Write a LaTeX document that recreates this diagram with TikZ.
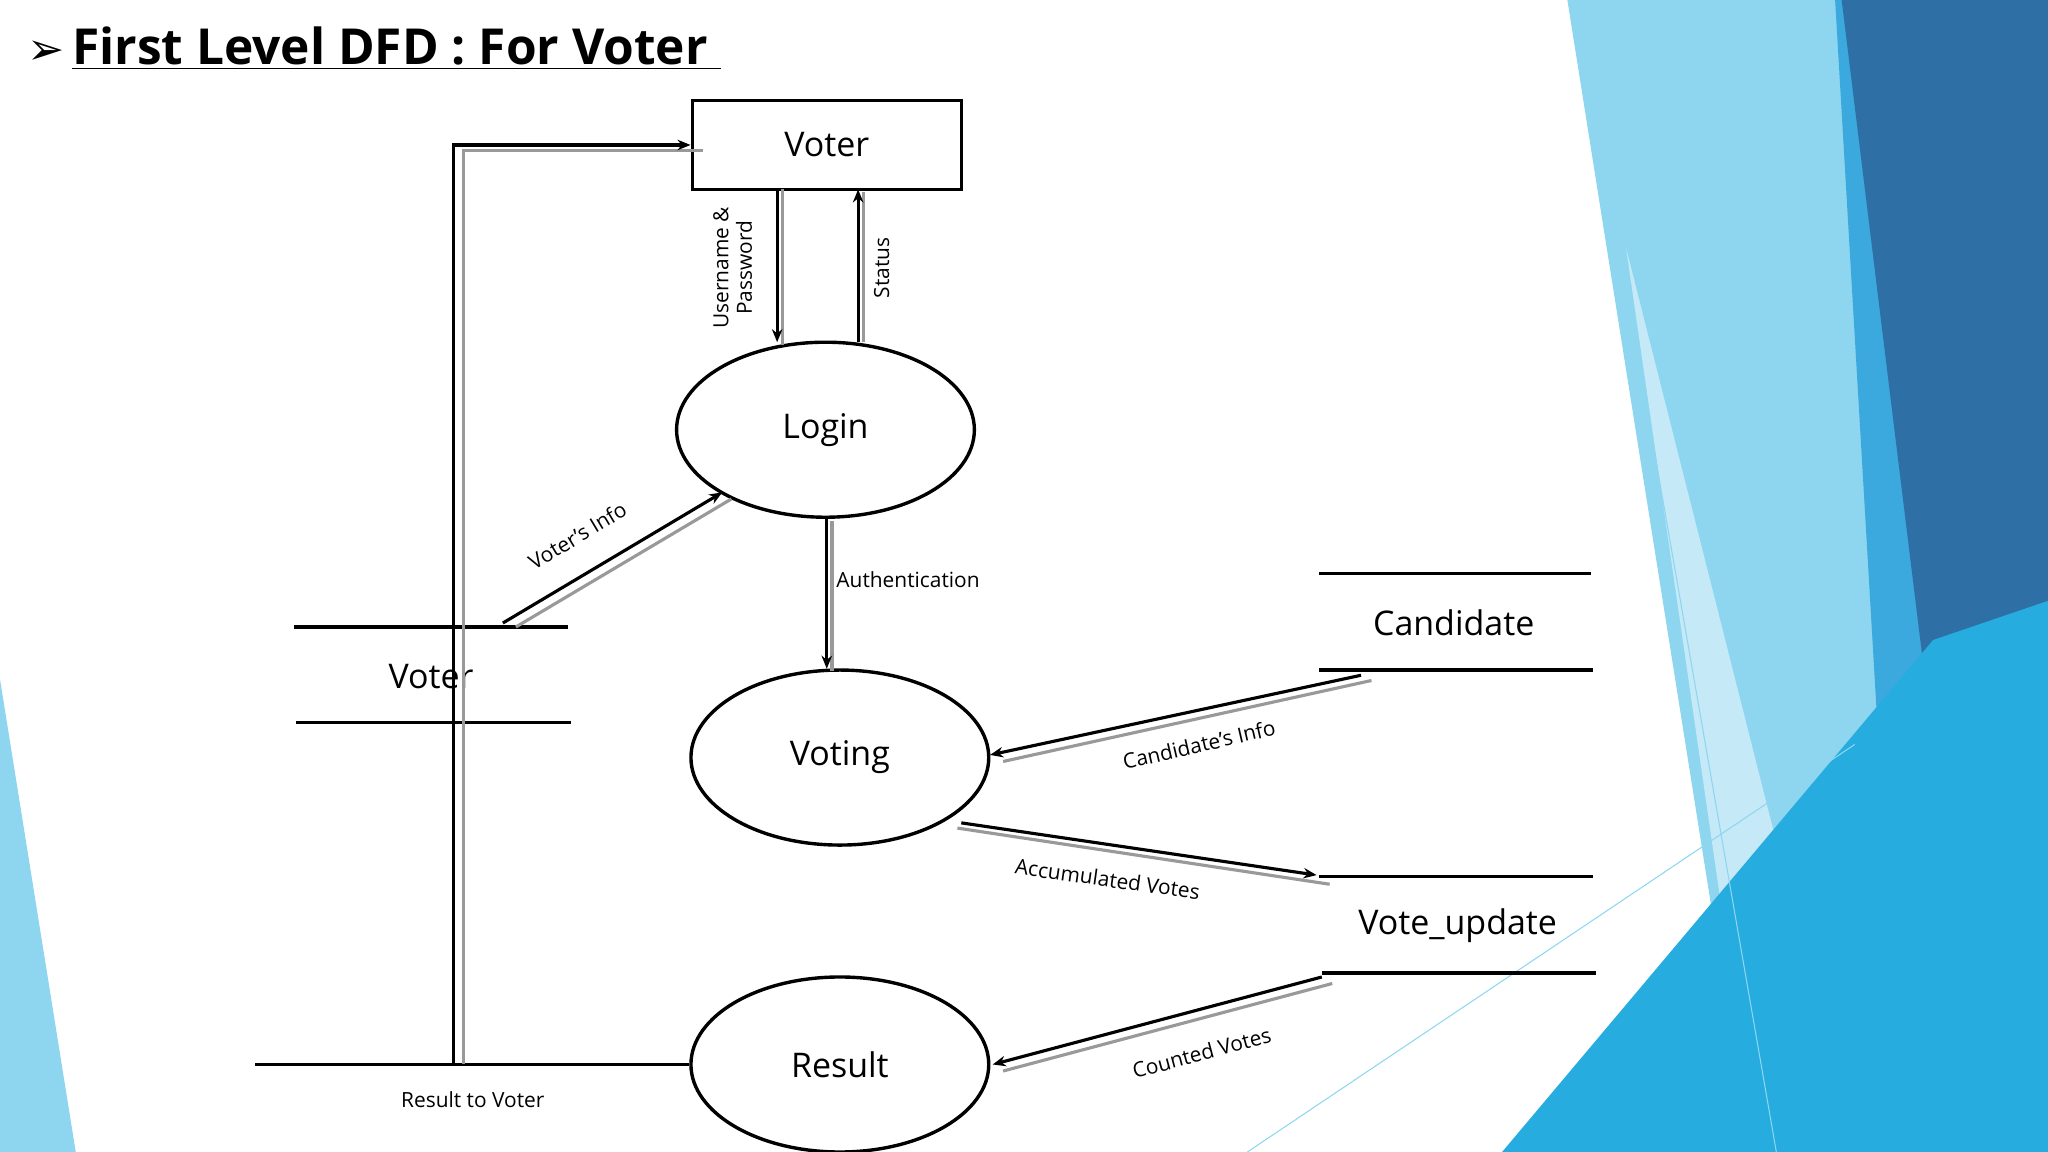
\documentclass[tikz,border=0pt]{standalone}
\usepackage{fontspec}
\setmainfont{Open Sans}
\newfontfamily\dvsans{DejaVu Sans}
\usetikzlibrary{shapes.geometric,arrows.meta,positioning}
\definecolor{skyA}{HTML}{8ED6F0}
\definecolor{skyB}{HTML}{3BA9DD}
\definecolor{skyC}{HTML}{2E6FA6}
\definecolor{skyD}{HTML}{27ACE0}
\definecolor{skyE}{HTML}{C5E9F7}
\tikzstyle{process} = [ellipse, draw=black, line width=1.3pt, minimum width=114pt, minimum height=67pt, font=\fontsize{13}{15}\selectfont]
\tikzstyle{entity} = [rectangle, draw=black, line width=1.3pt, minimum width=103pt, minimum height=34pt, font=\fontsize{13}{15}\selectfont]
\tikzstyle{store} = [font=\fontsize{13}{15}\selectfont]
\tikzstyle{storeline} = [line width=1.3pt]
\tikzstyle{arrow} = [line width=1.2pt,-{Stealth[length=5pt,width=4pt]}]
\tikzstyle{shade} = [line width=1.2pt,draw=gray!80]
\tikzstyle{lbl} = [font=\fontsize{8}{9}\selectfont, inner sep=1pt]
\begin{document}
\begin{tikzpicture}[x=0.5pt,y=-0.5pt]
        \useasboundingbox (0,0) rectangle (1568,882);
        % background
        \fill[skyA] (1200,0)--(1568,0)--(1568,882)--(1340,882)--cycle;
        \fill[skyE] (1245,190)--(1420,882)--(1345,882)--cycle;
        \fill[skyB] (1405,0)--(1568,0)--(1568,882)--(1420,882)--(1440,600)--cycle;
        \fill[skyC] (1410,0)--(1568,0)--(1568,460)--(1480,570)--cycle;
        \fill[skyD] (1150,882)--(1480,490)--(1568,460)--(1568,882)--cycle;
        \fill[skyA] (0,520)--(58,882)--(0,882)--cycle;
        \draw[skyA] (1210,20)--(1360,882);
        \draw[skyA] (955,882)--(1420,570);
        % title
        \node(title) [anchor=west, font=\fontsize{19}{22}\selectfont\bfseries] at (14,37) {{\dvsans\mdseries\fontsize{17}{17}\selectfont ➢}\hspace{0.15em}\underline{First Level DFD : For Voter\ }};
        % nodes
        \node(voter) [entity] at (633,111) {Voter};
        \node(login) [process] at (632,329) {Login};
        \node(voting) [process] at (643,580) {Voting};
        \node(result) [process] at (643,815) {Result};
        \node(vstore) [store] at (330,518) {Voter};
        \node(cstore) [store] at (1113,477) {Candidate};
        \node(ustore) [store] at (1116,709) {Vote\_update};
        \draw [storeline] (225,480)--(435,480) (227,553)--(437,553);
        \draw [storeline] (1010,439)--(1218,439) (1010,513)--(1220,513);
        \draw [storeline] (1010,671)--(1220,671) (1012,745)--(1222,745);
        % connectors
        \draw [shade] (599,145)--(599,264);
        \draw [arrow] (595,145)--(595,262);
        \node[lbl, rotate=90, align=center] at (561,205) {Username \&\\Password};
        \draw [shade] (661,262)--(661,147);
        \draw [arrow] (657,262)--(657,145);
        \node[lbl, rotate=90] at (675,205) {Status};
        \draw [shade] (637,399)--(637,514);
        \draw [arrow] (633,397)--(633,512);
        \node[lbl, anchor=west] at (638,444) {Authentication};
        \draw [shade] (395,480)--(560,382);
        \draw [arrow] (385,477)--(553,377);
        \node[lbl, rotate=31] at (442,410) {Voter's Info};
        \draw [shade] (1050,521)--(768,583);
        \draw [arrow] (1042,517)--(758,578);
        \node[lbl, rotate=13] at (918,570) {Candidate's Info};
        \draw [shade] (733,634)--(1018,677);
        \draw [arrow] (736,630)--(1008,670);
        \node[lbl, rotate=-8] at (848,673) {Accumulated Votes};
        \draw [shade] (1020,753)--(768,820);
        \draw [arrow] (1012,748)--(760,815);
        \node[lbl, rotate=15] at (920,806) {Counted Votes};
        \draw [line width=1.2pt] (result.west)--(195,815);
        \draw [shade] (355,815)--(355,115)--(538,115);
        \draw [arrow] (347,815)--(347,111)--(voter.west);
        \node[lbl] at (362,842) {Result to Voter};
    \end{tikzpicture}
\end{document}
